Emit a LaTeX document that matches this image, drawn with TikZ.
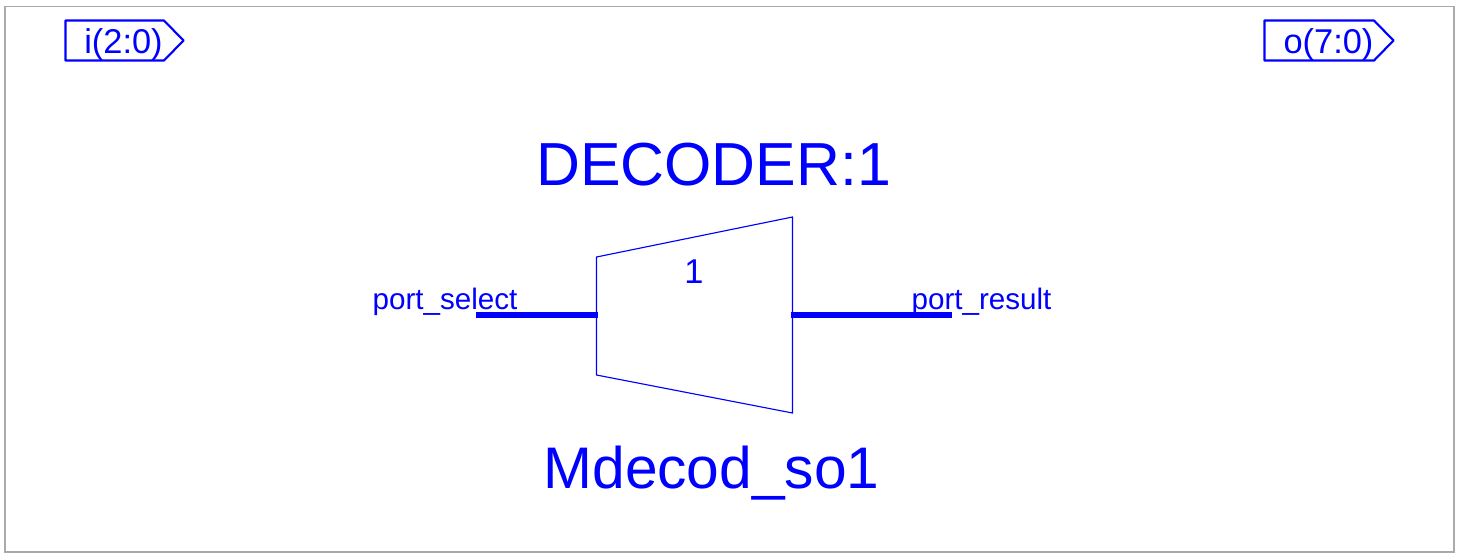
\documentclass[tikz,border=0pt]{standalone}
\usepackage{fontspec}
\setmainfont{Liberation Sans}
\definecolor{netblue}{RGB}{0,0,255}
\definecolor{frameGray}{RGB}{170,170,170}
\tikzset{
  px/.style={x=0.75pt,y=-0.75pt},
  label text/.style={text=netblue,inner sep=0pt,outer sep=0pt,anchor=base},
  title text/.style={label text,font=\fontsize{45.6}{46}\selectfont},
  name text/.style={label text,font=\fontsize{44}{44}\selectfont},
  pin text/.style={label text,font=\fontsize{22.2}{23}\selectfont},
  port text/.style={label text,font=\fontsize{25.8}{26}\selectfont},
  portbox/.style={draw=netblue,line width=1.6pt,line join=round},
  body/.style={draw=netblue,line width=0.85pt,line join=miter},
  bus/.style={draw=netblue,line width=3.8pt}
}
\begin{document}
\begin{tikzpicture}[px]
\useasboundingbox (0,0) rectangle (1459,558);
\draw[frameGray,line width=1pt] (5,6.5) rectangle (1454,552);
% ports
\draw[portbox] (65.5,20.5) -- (164,20.5) -- (183.5,40.5) -- (164,60.5) -- (65.5,60.5) -- cycle;
\node[port text] (iport) at (123.5,53) {i(2:0)};
\draw[portbox] (1264.5,20.5) -- (1374,20.5) -- (1393.5,40.5) -- (1374,60.5) -- (1264.5,60.5) -- cycle;
\node[port text] (oport) at (1328.5,53) {o(7:0)};
% decoder
\draw[body] (596.5,257) -- (792.5,217) -- (792.5,413) -- (596.5,375) -- cycle;
\coordinate (selpin) at (598,315);
\coordinate (respin) at (791,315);
\coordinate (selend) at (476,315);
\coordinate (resend) at (952,315);
\draw[bus] (selend) -- (selpin);
\draw[bus] (respin) -- (resend);
\node[title text] (inst) at (713.5,185) {DECODER:1};
\node[name text] (name) at (711.5,488) {Mdecod\_so1};
\node[port text] (num) at (694,283) {1};
\node[pin text] (sel) at (445,309) {port\_select};
\node[pin text] (res) at (981.5,309) {port\_result};
\end{tikzpicture}
\end{document}
